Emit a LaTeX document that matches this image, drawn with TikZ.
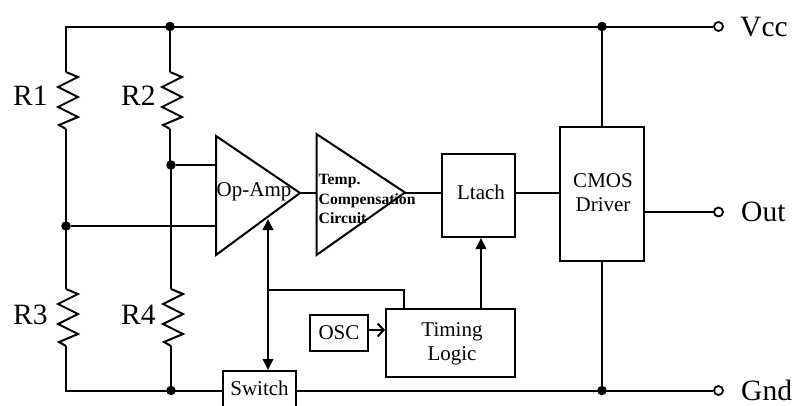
\documentclass[tikz,border=0pt]{standalone}
\usepackage{fontspec}
\setmainfont{Liberation Serif}
\usetikzlibrary{arrows.meta}
\tikzset{
  x=1pt,y=-1pt,
  wire/.style={line width=2pt,line join=miter},
  boxn/.style={draw,line width=2pt,inner sep=0pt,align=center,font=\fontsize{21}{24}\selectfont},
  txt/.style={inner sep=0pt,align=center,font=\fontsize{21}{24}\selectfont},
  big/.style={inner sep=0pt,font=\fontsize{29.5}{32}\selectfont},
  dotn/.style={circle,fill=black,inner sep=0pt,minimum size=9.5pt},
  term/.style={circle,draw,fill=white,line width=1.8pt,inner sep=0pt,minimum size=9pt},
  solidtip/.style={-{Triangle[length=11pt,width=10.5pt]}},
  pics/resistor/.style={code={
    \coordinate (-t) at (0,0);
    \coordinate (-b) at (0,57);
    \draw[wire] (-t) -- (12,5) -- (-8,15) -- (12,25) -- (-8,35) -- (12,45) -- (-7,53) -- (-b);
  }}
}
\begin{document}
\begin{tikzpicture}
\useasboundingbox (0,0) rectangle (798,405);
\clip (0,0) rectangle (798,405);
% junctions
\node[dotn] (jtop) at (170,26.5) {};
\node[dotn] (jvcc) at (602,26.5) {};
\node[dotn] (jmid) at (66,226) {};
\node[dotn] (jinp) at (171,165) {};
\node[dotn] (jbot) at (171,390.5) {};
\node[dotn] (jgnd) at (602,390.5) {};
\coordinate (cornertl) at (66,26.5);
\coordinate (cornerbl) at (66,390.5);
\coordinate (jbranch) at (268,290);
% terminals
\node[term] (tvcc) at (718.5,26.5) {};
\node[term] (tout) at (718.5,212) {};
\node[term] (tgnd) at (718.5,390.5) {};
% resistors
\pic (r1) at (66,72) {resistor};
\pic (r2) at (170,72) {resistor};
\pic (r3) at (66,289) {resistor};
\pic (r4) at (171,289) {resistor};
% blocks
\node[boxn,minimum width=73pt,minimum height=83pt] (latch) at (478.5,195.5) {};
\node[txt] (latcht) at (481,192) {Ltach};
\node[boxn,minimum width=84pt,minimum height=134pt] (cmos) at (602,194) {};
\node[txt] (cmost) at (603,193) {CMOS\\Driver};
\node[boxn,minimum width=129pt,minimum height=68pt] (timing) at (450.5,343) {};
\node[txt] (timingt) at (452,344) {Timing\\Logic};
\node[boxn,minimum width=58pt,minimum height=36pt] (osc) at (339,333) {OSC};
\node[boxn,minimum width=73pt,minimum height=44pt] (switch) at (259.5,393) {};
\node[txt] (switcht) at (259.5,388) {Switch};
% triangles
\coordinate (oa1) at (216,136);
\coordinate (oa2) at (216,255);
\coordinate (oatip) at (300,193);
\coordinate (tc1) at (316.5,134);
\coordinate (tc2) at (316.5,255);
\coordinate (tctip) at (405,192.5);
\draw[wire] (oa1) -- (oatip) -- (oa2) -- cycle;
\draw[wire] (tc1) -- (tctip) -- (tc2) -- cycle;
\node[txt,anchor=west] (oat) at (216.5,192) {Op-Amp};
\node[inner sep=0pt,align=left,anchor=west,font=\fontsize{15.7}{19.5}\selectfont\bfseries] (tct) at (318.5,199) {Temp.\\Compensation\\Circuit};
% rails
\draw[wire] (r1-t) -- (cornertl) -- (tvcc);
\draw[wire] (jtop) -- (r2-t);
\draw[wire] (r1-b) -- (r3-t);
\draw[wire] (r3-b) -- (cornerbl) -- (switch.west |- cornerbl);
\draw[wire] (switch.east |- cornerbl) -- (tgnd);
\draw[wire] (r2-b) -- (r2-b |- jinp) -- (jinp.center) -- (r4-t);
\draw[wire] (r4-b) -- (jbot);
\draw[wire] (jinp) -- (oa1 |- jinp);
\draw[wire] (jmid) -- (oa1 |- jmid);
\draw[wire] (oatip) -- (tc1 |- oatip);
\draw[wire] (tctip) -- (latch.west |- tctip);
\draw[wire] (latch.east |- tctip) -- (cmos.west |- tctip);
\draw[wire] (jvcc) -- (cmos.north);
\draw[wire] (cmos.south) -- (jgnd);
\draw[wire] (cmos.east |- tout) -- (tout);
\draw[wire,solidtip] (timing.north -| 481,0) -- (latch.south -| 481,0);
\draw[wire,{Straight Barb[length=6pt,width=13pt]}-] (timing.west |- 0,330) -- (osc.east |- 0,330);
\coordinate (oagate) at (268,219);
\draw[wire,{Triangle[length=11pt,width=10.5pt]}-{Triangle[length=11pt,width=10.5pt]}] (oagate) -- (switch.north -| oagate);
\draw[wire] (jbranch) -- (404,290) -- (timing.north -| 404,0);
% labels
\node[big,anchor=base west] (lr1) at (13,105) {R1};
\node[big,anchor=base west] (lr2) at (121,105) {R2};
\node[big,anchor=base west] (lr3) at (13,324) {R3};
\node[big,anchor=base west] (lr4) at (121,324) {R4};
\node[big,anchor=base west] (lvcc) at (740,36) {Vcc};
\node[big,anchor=base west] (lout) at (741,221) {Out};
\node[big,anchor=base west] (lgnd) at (741,400) {Gnd};
\end{tikzpicture}
\end{document}
